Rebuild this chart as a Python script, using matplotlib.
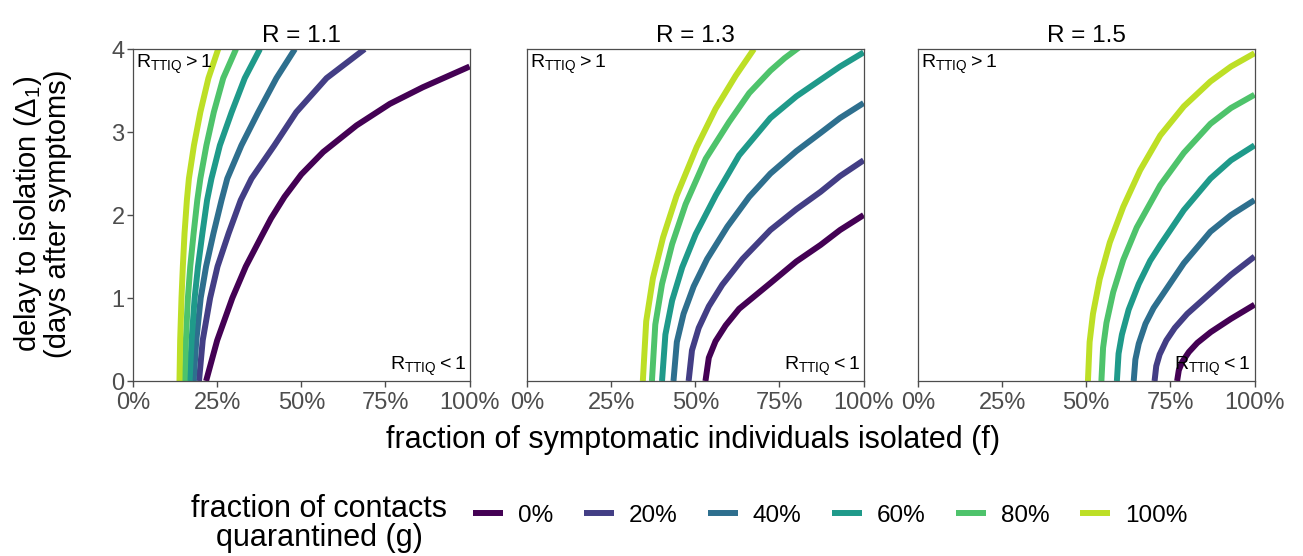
import numpy as np
import matplotlib
matplotlib.use("Agg")
import matplotlib.pyplot as plt
from matplotlib.ticker import PercentFormatter

plt.rcParams['font.family'] = ['Liberation Sans', 'DejaVu Sans']

# panel values and legend levels
r_values = ["1.1", "1.3", "1.5"]
g_labels = ["0%", "20%", "40%", "60%", "80%", "100%"]

# R = 1.1 : f (% isolated) and delay (days), one list per g = 0% .. 100%
d_grid_11 = [0, 0.49, 1.0, 1.38, 1.78, 2.18, 2.44, 2.84, 3.24, 3.65, 4.0]
f_r11 = [
    [21.7, 25.0, 29.5, 33.5, 38.0, 41.0, 45.0, 50.0, 56.5, 66.4, 76.3, 86.1, 100],
    [19.6, 20.7, 22.9, 25.1, 28.4, 32.0, 35.2, 42.0, 48.5, 57.5, 68.8],
    [18.0, 18.8, 20.1, 21.7, 23.9, 26.3, 28.0, 32.2, 37.2, 42.6, 48.1],
    [16.8, 17.4, 18.3, 19.3, 20.6, 22.0, 23.3, 25.8, 29.3, 33.2, 37.7],
    [15.3, 15.7, 16.3, 17.0, 18.0, 19.1, 20.0, 21.8, 24.0, 26.8, 30.6],
    [13.8, 14.0, 14.4, 14.8, 15.3, 16.0, 16.6, 18.1, 20.0, 22.4, 25.3],
]
d_r11 = [
    [0, 0.49, 1.0, 1.38, 1.73, 1.96, 2.22, 2.49, 2.76, 3.08, 3.34, 3.54, 3.79],
    d_grid_11, d_grid_11, d_grid_11, d_grid_11, d_grid_11,
]

# R = 1.3
f_r13 = [
    [53.0, 54.0, 56.0, 59.0, 63.0, 72.3, 80.0, 87.2, 93.0, 100],
    [48.0, 49.0, 51.0, 54.0, 58.0, 64.0, 72.3, 80.0, 87.2, 93.0, 100],
    [43.5, 44.5, 46.5, 49.5, 53.5, 59.5, 66.0, 72.3, 80.0, 87.2, 93.0, 100],
    [40.1, 41.1, 43.1, 46.1, 50.1, 56.1, 63.0, 72.3, 80.0, 87.2, 93.0, 100],
    [37.1, 38.1, 40.1, 43.1, 47.1, 53.1, 60.0, 66.0, 72.3, 76.5, 80.8],
    [34.4, 35.4, 37.4, 40.4, 44.4, 50.4, 56.0, 62.0, 67.4],
]
d_r13 = [
    [0, 0.28, 0.48, 0.67, 0.87, 1.18, 1.44, 1.64, 1.82, 2.0],
    [0, 0.37, 0.64, 0.90, 1.16, 1.47, 1.82, 2.07, 2.28, 2.47, 2.66],
    [0, 0.47, 0.81, 1.14, 1.47, 1.86, 2.22, 2.50, 2.77, 2.99, 3.17, 3.35],
    [0, 0.56, 0.97, 1.37, 1.77, 2.24, 2.72, 3.17, 3.43, 3.63, 3.79, 3.96],
    [0, 0.68, 1.17, 1.65, 2.13, 2.68, 3.12, 3.47, 3.74, 3.89, 4.02],
    [0, 0.72, 1.24, 1.73, 2.23, 2.82, 3.28, 3.68, 4.0],
]

# R = 1.5
f_r15 = [
    [77.0, 77.5, 78.5, 80.5, 83.0, 87.0, 93.0, 100],
    [70.3, 70.8, 71.8, 73.8, 76.3, 80.0, 86.9, 93.0, 100],
    [64.1, 64.6, 65.6, 67.6, 70.0, 72.0, 79.0, 86.9, 93.0, 100],
    [59.1, 59.6, 60.6, 62.6, 65.6, 69.0, 72.0, 79.0, 86.9, 93.0, 100],
    [54.5, 55.0, 56.0, 58.0, 61.0, 65.0, 72.0, 79.0, 86.9, 93.0, 100],
    [50.5, 51.0, 52.0, 54.0, 57.0, 61.0, 66.0, 72.0, 79.0, 86.9, 93.0, 100],
]
d_r15 = [
    [0, 0.13, 0.23, 0.35, 0.46, 0.59, 0.75, 0.92],
    [0, 0.18, 0.32, 0.49, 0.64, 0.81, 1.06, 1.28, 1.5],
    [0, 0.26, 0.45, 0.69, 0.88, 1.0, 1.42, 1.8, 2.0, 2.18],
    [0, 0.33, 0.56, 0.86, 1.17, 1.45, 1.64, 2.06, 2.44, 2.66, 2.84],
    [0, 0.4, 0.7, 1.07, 1.46, 1.85, 2.36, 2.75, 3.1, 3.29, 3.45],
    [0, 0.47, 0.81, 1.23, 1.67, 2.1, 2.54, 2.96, 3.31, 3.61, 3.79, 3.95],
]

panels = [(f_r11, d_r11), (f_r13, d_r13), (f_r15, d_r15)]
colors = plt.cm.viridis(np.linspace(0, 0.9, len(g_labels)))

fig = plt.figure(figsize=(13.03, 5.56), dpi=100)
lefts = [0.1021, 0.4045, 0.7045]
axes = [fig.add_axes([l, 0.3147, 0.2583, 0.597]) for l in lefts]

grey = "#4d4d4d"
for i, ax in enumerate(axes):
    fs, ds = panels[i]
    for k in range(len(g_labels)):
        ax.plot(fs[k], ds[k], color=colors[k], lw=4.3, solid_capstyle="butt",
                solid_joinstyle="round", label=g_labels[k])
    ax.set_xlim(0, 100)
    ax.set_ylim(0, 4)
    ax.set_xticks([0, 25, 50, 75, 100])
    ax.xaxis.set_major_formatter(PercentFormatter(100, decimals=0))
    ax.set_yticks([0, 1, 2, 3, 4])
    ax.tick_params(colors=grey, labelsize=17, length=4, width=1, pad=2)
    ax.tick_params(axis="x", pad=4)
    for s in ax.spines.values():
        s.set_color(grey)
        s.set_linewidth(0.9)
    ax.set_title("R = " + r_values[i], fontsize=17.5, pad=5)
    ax.text(0.01, 0.99, r"$\mathregular{R_{TTIQ} > 1}$", transform=ax.transAxes,
            ha="left", va="top", fontsize=14)
    ax.text(0.99, 0.01, r"$\mathregular{R_{TTIQ} < 1}$", transform=ax.transAxes,
            ha="right", va="bottom", fontsize=14)
    if i > 0:
        ax.tick_params(axis="y", left=False, labelleft=False)

fig.text(0.0215, 0.615, "delay to isolation ($\\mathregular{\\Delta_1}$)",
         rotation=90, ha="center", va="center", fontsize=21)
fig.text(0.0445, 0.615, "(days after symptoms)", rotation=90, ha="center",
         va="center", fontsize=21)
fig.text(0.532, 0.209, "fraction of symptomatic individuals isolated (f)",
         ha="center", va="center", fontsize=22)

fig.text(0.245, 0.058, "fraction of contacts\nquarantined (g)", ha="center",
         va="center", fontsize=22, linespacing=0.95)
handles, labels = axes[0].get_legend_handles_labels()
fig.legend(handles, labels, loc="center", bbox_to_anchor=(0.637, 0.072), ncol=6,
           frameon=False, fontsize=17.5, handlelength=1.25, handletextpad=0.6,
           columnspacing=1.25)

fig.savefig("out.png", dpi=100)
